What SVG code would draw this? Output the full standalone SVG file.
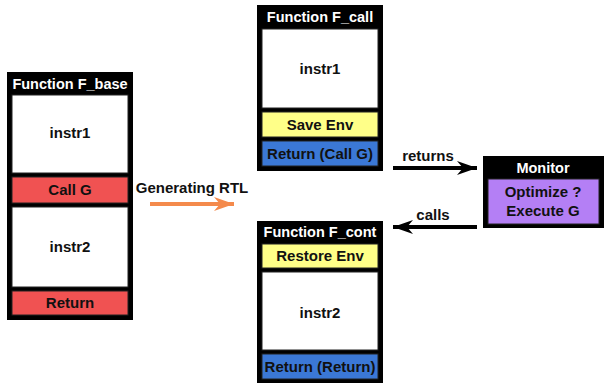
<svg xmlns="http://www.w3.org/2000/svg" width="606" height="384" viewBox="0 0 606 384">
  <style>
    text { font-family: "Liberation Sans", Arial, sans-serif; font-weight: bold; font-size: 15px; text-anchor: middle; fill: #111; }
    .title { fill: #fff; font-size: 14.5px; }
    .frame { fill: #000; }
    .body { fill: #fff; stroke: #222; stroke-width: 1; }
    .red { fill: #f05252; stroke: #222; stroke-width: 1; }
    .yellow { fill: #ffff88; stroke: #222; stroke-width: 1; }
    .blue { fill: #3b78d6; stroke: #222; stroke-width: 1; }
    .purple { fill: #b47ff5; stroke: #222; stroke-width: 1; }
    .link { fill: none; stroke: #000; stroke-width: 4; }
    .gen { fill: none; stroke: #f48a4c; stroke-width: 4; }
  </style>
  <defs>
    <marker id="headBlack" markerUnits="userSpaceOnUse" markerWidth="22" markerHeight="16" refX="20" refY="8" orient="auto">
      <path d="M0,1 L20,8 L0,15 L6,8 Z" fill="#000"/>
    </marker>
    <marker id="headOrange" markerUnits="userSpaceOnUse" markerWidth="22" markerHeight="16" refX="20" refY="8" orient="auto">
      <path d="M0,1 L20,8 L0,15 L6,8 Z" fill="#f48a4c"/>
    </marker>
  </defs>

  <rect width="606" height="384" fill="#fff"/>

  <g id="f_base">
    <rect class="frame" x="7" y="72" width="126" height="248"/>
    <text class="title" x="70" y="89">Function F_base</text>
    <rect class="body" x="12" y="95" width="116" height="78"/>
    <text x="70" y="138">instr1</text>
    <rect class="red" x="12" y="177" width="116" height="26"/>
    <text x="70" y="195">Call G</text>
    <rect class="body" x="12" y="207" width="116" height="80"/>
    <text x="70" y="252">instr2</text>
    <rect class="red" x="12" y="291" width="116" height="24"/>
    <text x="70" y="308">Return</text>
  </g>

  <g id="f_call">
    <rect class="frame" x="257" y="5" width="126" height="166"/>
    <text class="title" x="320" y="22">Function F_call</text>
    <rect class="body" x="262" y="29" width="116" height="79"/>
    <text x="320" y="74">instr1</text>
    <rect class="yellow" x="262" y="112" width="116" height="25"/>
    <text x="320" y="130">Save Env</text>
    <rect class="blue" x="262" y="141" width="116" height="25"/>
    <text x="320" y="159">Return (Call G)</text>
  </g>

  <g id="f_cont">
    <rect class="frame" x="257" y="221" width="126" height="162"/>
    <text class="title" x="320" y="237">Function F_cont</text>
    <rect class="yellow" x="262" y="244" width="116" height="24"/>
    <text x="320" y="261">Restore Env</text>
    <rect class="body" x="262" y="272" width="116" height="78"/>
    <text x="320" y="318">instr2</text>
    <rect class="blue" x="262" y="354" width="116" height="25"/>
    <text x="320" y="372">Return (Return)</text>
  </g>

  <g id="monitor">
    <rect class="frame" x="483" y="156" width="121" height="72"/>
    <text class="title" x="543" y="173">Monitor</text>
    <rect class="purple" x="488" y="179" width="111" height="45"/>
    <text x="543" y="197">Optimize ?</text>
    <text x="543" y="216">Execute G</text>
  </g>

  <g id="connectors">
    <line class="gen" x1="150" y1="204" x2="234" y2="204" marker-end="url(#headOrange)"/>
    <text x="192" y="193">Generating RTL</text>
    <line class="link" x1="393" y1="168" x2="477" y2="168" marker-end="url(#headBlack)"/>
    <text x="428" y="161">returns</text>
    <line class="link" x1="477" y1="227" x2="393" y2="227" marker-end="url(#headBlack)"/>
    <text x="433" y="220">calls</text>
  </g>
</svg>
